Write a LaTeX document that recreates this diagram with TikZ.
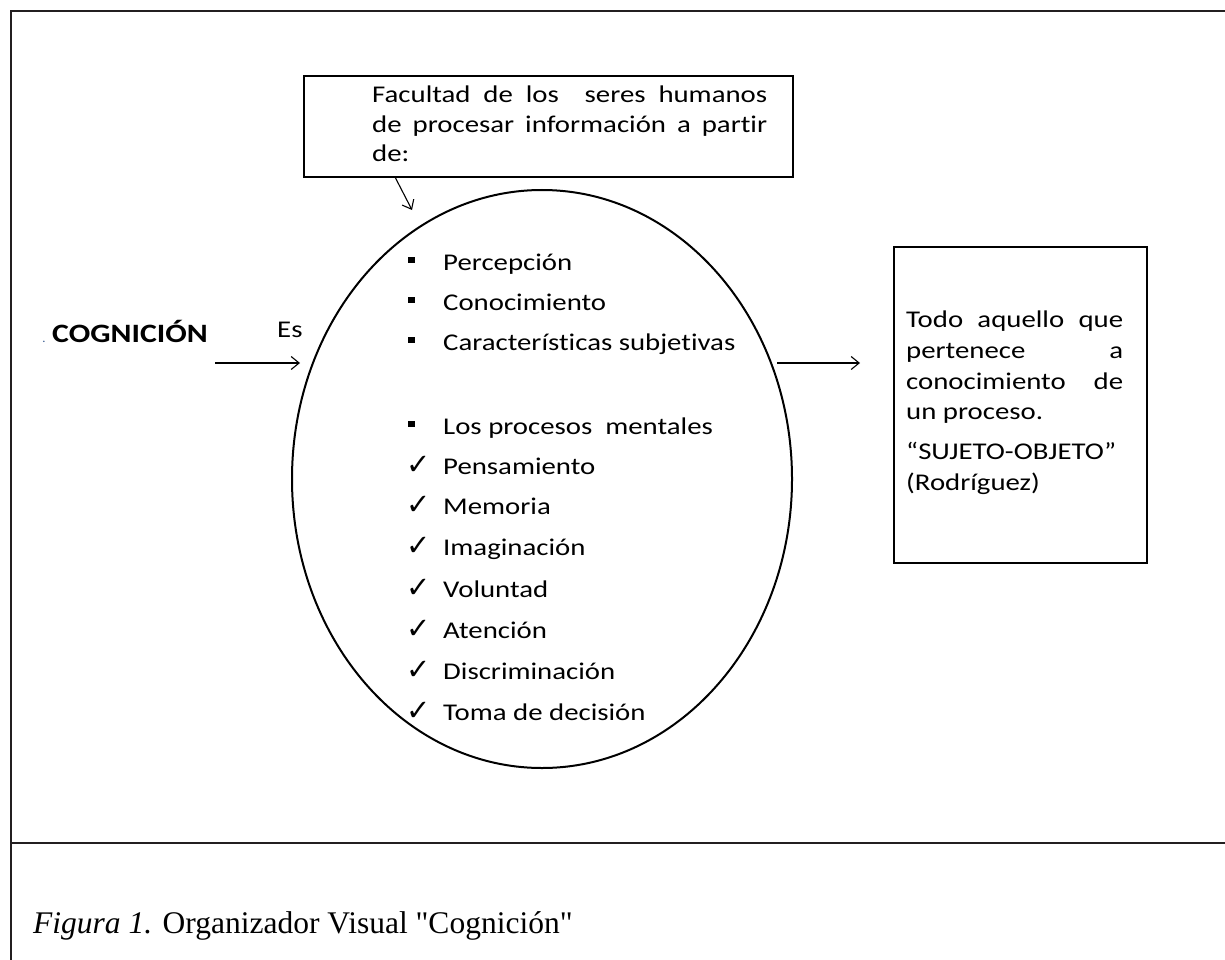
\documentclass[tikz,border=0pt]{standalone}
\usepackage{fontspec}
\setmainfont{Carlito}[FakeStretch=1.2,Ligatures={NoCommon}]
\newfontfamily\capfont{Liberation Serif}
\newfontfamily\symfont{DejaVu Sans}
\usetikzlibrary{arrows.meta,calc,shapes.geometric}
\definecolor{framecol}{HTML}{231F20}
\definecolor{dotblue}{HTML}{4A6A9A}
\tikzset{
  txt/.style={anchor=base west, inner sep=0pt, font=\fontsize{24}{29}\selectfont},
  boxed/.style={draw=black, line width=2pt, rectangle, inner sep=0pt, anchor=north west},
  conn/.style={draw=black, line width=1.1pt, -{Straight Barb[length=8pt,width=13pt,line width=1.1pt]}},
  markbox/.style={anchor=base west, inner sep=0pt},
}
\newcommand{\sqbullet}{\rule[7pt]{6.5pt}{6.5pt}}
\newcommand{\chk}{{\symfont\fontsize{29}{29}\selectfont ✓}}
\begin{document}
\begin{tikzpicture}[x=1pt,y=-1pt]
\useasboundingbox (0,0) rectangle (1225,960);
% frame
\draw[framecol, line width=2.5pt] (1225,11) -- (11,11) -- (11,960);
\draw[framecol, line width=2.5pt] (11,843) -- (1225,843);

% top box
\node[boxed, minimum width=489pt, minimum height=101pt] (topbox) at (303,75) {};
\node[txt] (t1) at (372,103) {\makebox[395pt][s]{Facultad de los\ \ seres humanos}};
\node[txt] (t2) at (372,132.5) {\makebox[395pt][s]{de procesar información a partir}};
\node[txt] (t3) at (372,162) {de:};

% ellipse
\node[ellipse, draw=black, line width=2pt, minimum width=500pt, minimum height=578pt, inner sep=0pt] (ell) at (542,479) {};

% list
\foreach \y/\m/\t/\mx [count=\i] in {
  270/\sqbullet/Percepción/408,
  310/\sqbullet/Conocimiento/408,
  350/\sqbullet/Características subjetivas/408,
  434/\sqbullet/Los procesos\ \ mentales/408,
  474/\chk/Pensamiento/406,
  514/\chk/Memoria/406,
  555/\chk/Imaginación/406,
  597/\chk/Voluntad/406,
  638/\chk/Atención/406,
  679/\chk/Discriminación/406,
  720/\chk/Toma de decisión/406}{
  \node[markbox] (m\i) at (\mx,\y) {\m};
  \node[txt] (item\i) at (443,\y) {\t};
}

% left label
\node[anchor=base west, inner sep=0pt, text=dotblue, font=\fontsize{12}{12}\selectfont] (dot) at (42,342) {.};
\node[anchor=base west, inner sep=0pt, font=\bfseries\fontsize{26.5}{26.5}\selectfont] (cog) at (52,342) {COGNICIÓN};
\node[txt] (es) at (277,337) {Es};

% right box
\node[boxed, minimum width=253pt, minimum height=316pt] (rbox) at (893,246) {};
\node[txt] (r1) at (906,327) {\makebox[217pt][s]{Todo aquello que}};
\node[txt] (r2) at (906,358) {\makebox[217pt][s]{pertenece a}};
\node[txt] (r3) at (906,389) {\makebox[217pt][s]{conocimiento de}};
\node[txt] (r4) at (906,419) {un proceso.};
\node[txt] (r5) at (906,459) {“SUJETO-OBJETO”};
\node[txt] (r6) at (906,490) {(Rodríguez)};

% connectors
\coordinate (a1s) at (395,177);
\coordinate (a1e) at (412,210);
\coordinate (a2s) at (215,363);
\coordinate (a2e) at (300,363);
\coordinate (a3s) at (777,363);
\coordinate (a3e) at (860,363);
\draw[conn] (a1s) -- (a1e);
\draw[conn] (a2s) -- (a2e);
\draw[conn] (a3s) -- (a3e);

% caption
\node[anchor=base west, inner sep=0pt, font=\capfont\fontsize{31.5}{31.5}\selectfont] (cap) at (33,933) {\textit{Figura 1.} Organizador Visual "Cognición"};
\end{tikzpicture}
\end{document}
